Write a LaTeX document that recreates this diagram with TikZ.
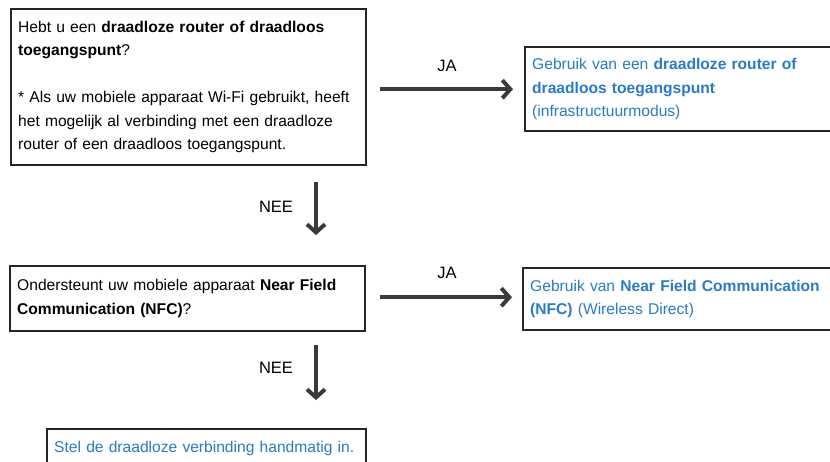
\documentclass[tikz,border=0pt]{standalone}
\usepackage{fontspec}
\setmainfont{Liberation Sans}
\usetikzlibrary{arrows.meta}
\definecolor{ansblue}{HTML}{2A7BC5}
\definecolor{frame}{HTML}{262626}
\definecolor{arrowgray}{HTML}{3A3A3A}
\begin{document}
\begin{tikzpicture}[x=1pt,y=-1pt,
  box/.style={draw=frame, line width=2.4pt, anchor=north west, inner xsep=7pt, inner ysep=0pt, align=left, text=black, font=\fontsize{15.6}{23.5}\selectfont},
  ans/.style={box, text=ansblue},
  flow/.style={draw=arrowgray, line width=4pt, -{Straight Barb[length=8pt,width=18pt]}},
  lbl/.style={font=\fontsize{16.5}{18}\selectfont, text=black, inner sep=0pt}]
\clip (0,0) rectangle (830,461);
\fill[white] (0,0) rectangle (830,461);
\coordinate (vx) at (316,0);
% nodes
\node[box, minimum width=355, minimum height=156, text width=341] (q1) at (10,8)
 {Hebt u een \textbf{draadloze router of draadloos}\\ \textbf{toegangspunt}?\\[23.5pt]
  * Als uw mobiele apparaat Wi-Fi gebruikt, heeft\\ het mogelijk al verbinding met een draadloze\\ router of een draadloos toegangspunt.};
\node[ans, minimum width=316, minimum height=84, text width=302] (a1) at (524,46)
 {Gebruik van een \textbf{draadloze router of}\\ \textbf{draadloos toegangspunt}\\ (infrastructuurmodus)};
\node[box, minimum width=355, minimum height=65, text width=341] (q2) at (9,265)
 {Ondersteunt uw mobiele apparaat \textbf{Near Field}\\ \textbf{Communication (NFC)}?};
\node[ans, minimum width=318, minimum height=62, text width=304] (a2) at (522,267)
 {Gebruik van \textbf{Near Field Communication}\\ \textbf{(NFC)} (Wireless Direct)};
\node[ans, minimum width=319, minimum height=38, text width=305] (a3) at (46,428)
 {Stel de draadloze verbinding handmatig in.};
% connectors
\draw[flow] ([xshift=13pt]q1.east |- a1.west) -- ([xshift=-11pt]a1.west);
\draw[flow] ([xshift=14pt,yshift=1.5pt]q2.east) -- ([xshift=-10pt,yshift=1.5pt]q2.east -| a2.west);
\draw[flow] (q1.south -| vx) ++(0,16) coordinate (n1s) -- ([yshift=30pt]q2.north -| vx);
\draw[flow] (q2.south -| vx) ++(0,13) coordinate (n2s) -- ([yshift=28pt]a3.north -| vx);
% labels
\node[lbl] (ja1) at (447,66) {JA};
\node[lbl] (ja2) at (447,273) {JA};
\node[lbl] (nee1) at (276,207) {NEE};
\node[lbl] (nee2) at (276,368) {NEE};
\end{tikzpicture}
\end{document}
